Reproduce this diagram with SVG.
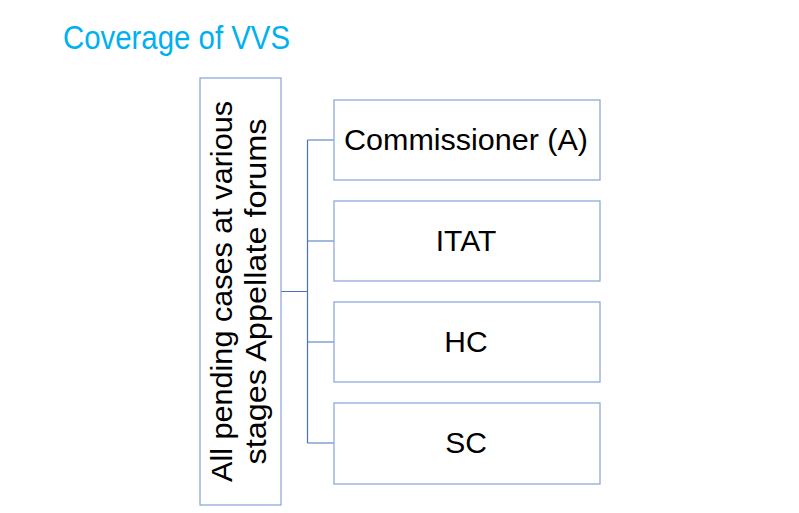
<svg xmlns="http://www.w3.org/2000/svg" width="799" height="513" viewBox="0 0 799 513">
<style>
.box{fill:#fff;stroke:#8faadc;stroke-width:1.3}
.lbl{font-family:"Liberation Sans",Arial,sans-serif;font-size:30px;fill:#000;text-anchor:middle}
.conn{fill:none;stroke:#4472c4;stroke-width:1.2}
</style>
<rect width="799" height="513" fill="#fff"/>
<text x="63" y="49" font-family="'Liberation Sans',Arial,sans-serif" font-size="33" fill="#00b0f0" textLength="227" lengthAdjust="spacingAndGlyphs">Coverage of VVS</text>
<g id="connectors">
<path class="conn" d="M281 291.5H307.5M307.5 140V443M307.5 140H334M307.5 241H334M307.5 342H334M307.5 443H334"/>
</g>
<g id="root">
<rect class="box" x="200" y="78" width="81" height="427"/>
<g transform="translate(240,291.5) rotate(-90)">
<text class="lbl" x="0" y="-8" textLength="381" lengthAdjust="spacingAndGlyphs">All pending cases at various</text>
<text class="lbl" x="0" y="26" textLength="346" lengthAdjust="spacingAndGlyphs">stages Appellate forums</text>
</g>
</g>
<g id="n1"><rect class="box" x="334" y="100" width="266" height="80"/><text class="lbl" x="466" y="150" textLength="244" lengthAdjust="spacingAndGlyphs">Commissioner (A)</text></g>
<g id="n2"><rect class="box" x="334" y="201" width="266" height="80"/><text class="lbl" x="466" y="251">ITAT</text></g>
<g id="n3"><rect class="box" x="334" y="302" width="266" height="80"/><text class="lbl" x="466" y="352">HC</text></g>
<g id="n4"><rect class="box" x="334" y="403" width="266" height="81"/><text class="lbl" x="466" y="453">SC</text></g>
</svg>
